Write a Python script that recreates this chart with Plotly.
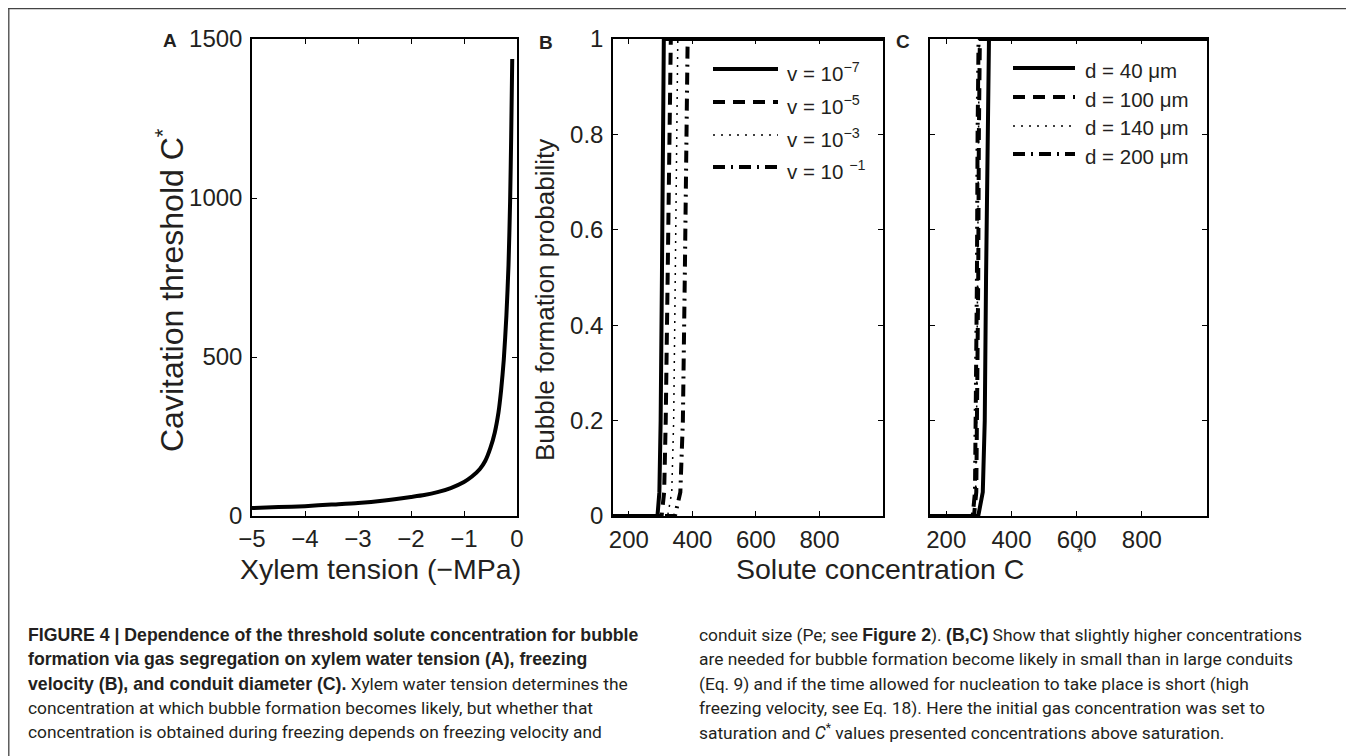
import plotly.graph_objects as go

# page body has an 8px margin: the figure is placed at (8, 8) on the page
OFF = 8
W, H = 1354 - OFF, 756 - OFF

# ---------------- data ----------------
# Panel A: cavitation threshold vs xylem tension
tension = [-5, -4.5, -4, -3.5, -3, -2.5, -2, -1.75, -1.5, -1.25, -1, -0.85, -0.7, -0.6,
           -0.5, -0.42, -0.35, -0.3, -0.25, -0.2, -0.16, -0.13, -0.11, -0.09]
threshold = [25, 28, 31, 36, 41, 49, 60, 66, 75, 88, 107, 124, 148, 173,
             215, 262, 325, 395, 490, 630, 790, 990, 1190, 1437]

# Panel B: bubble formation probability vs solute concentration, freezing velocity
prob_levels = [0, 0, 0.05, 0.2, 0.5, 0.8, 1, 1]
conc_v7 = [150, 290, 296, 300, 304, 307, 310, 1000]
conc_v5 = [150, 303, 311, 316, 322, 327, 332, 1000]
conc_v3 = [150, 322, 335, 341, 346, 350, 354, 1000]
conc_v1 = [150, 345, 362, 370, 376, 381, 385, 1000]
labels_B = ["v = 10<sup>−7</sup>", "v = 10<sup>−5</sup>", "v = 10<sup>−3</sup>", "v = 10 <sup>−1</sup>"]

# Panel C: conduit diameter
conc_d40 = [150, 298, 312, 318, 322, 326, 331, 1000]
conc_d100 = [150, 285, 292, 295, 298, 300, 303, 1000]
conc_d140 = [150, 283, 290, 293, 296, 298, 301, 1000]
conc_d200 = [150, 281, 288, 291, 294, 296, 299, 1000]
labels_C = ["d = 40 μm", "d = 100 μm", "d = 140 μm", "d = 200 μm"]

xticks_A = [-5, -4, -3, -2, -1, 0]
xticklabels_A = ["−5", "−4", "−3", "−2", "−1", "0"]
yticks_A = [0, 500, 1000, 1500]
xticks_BC = [200, 400, 600, 800]
yticks_BC = [0, 0.2, 0.4, 0.6, 0.8, 1]
yticklabels_B = ["0", "0.2", "0.4", "0.6", "0.8", "1"]

# ---------------- style ----------------
FONT = "Liberation Sans, Arial, Helvetica, sans-serif"
CAPFONT = "Roboto, Liberation Sans, Arial, sans-serif"
TXT = "#231f20"
styles = [
    dict(width=4, dash="solid"),
    dict(width=4, dash="12px,8px"),
    dict(width=1.5, dash="2px,6px"),
    dict(width=4, dash="12px,6px,2px,6px"),
]


def px(x):
    return (x - OFF) / W


def py(y):
    return 1 - (y - OFF) / H


fig = go.Figure()

fig.add_trace(go.Scatter(x=tension, y=threshold, mode="lines",
                         line=dict(color="black", width=4, shape="spline", smoothing=0.6),
                         xaxis="x", yaxis="y", showlegend=False))

for c, st in zip([conc_v7, conc_v5, conc_v3, conc_v1], styles):
    fig.add_trace(go.Scatter(x=c, y=prob_levels, mode="lines", line=dict(color="black", **st),
                             xaxis="x2", yaxis="y2", showlegend=False))
for c, st in zip([conc_d40, conc_d100, conc_d140, conc_d200], styles):
    fig.add_trace(go.Scatter(x=c, y=prob_levels, mode="lines", line=dict(color="black", **st),
                             xaxis="x3", yaxis="y3", showlegend=False))

axcommon = dict(showline=True, linecolor="black", linewidth=1.5, mirror="ticks", ticks="inside",
                ticklen=5, tickwidth=1, tickcolor="black", showgrid=False, zeroline=False,
                automargin=False, tickfont=dict(family=FONT, size=24, color=TXT))

ydom = [py(516), py(39)]
fig.update_layout(
    width=W, height=H, margin=dict(l=0, r=0, t=0, b=0, pad=0, autoexpand=False),
    showlegend=False,
    paper_bgcolor="white", plot_bgcolor="white",
    xaxis=dict(domain=[px(252), px(517)], range=[-5, 0], tickvals=xticks_A, ticktext=xticklabels_A,
               anchor="y", ticklabelstandoff=0, **axcommon),
    yaxis=dict(domain=ydom, range=[0, 1500], tickvals=yticks_A, anchor="x", ticklabelstandoff=3, **axcommon),
    xaxis2=dict(domain=[px(613), px(883)], range=[150, 1000], tickvals=xticks_BC, anchor="y2",
                ticklabelstandoff=1, **axcommon),
    yaxis2=dict(domain=ydom, range=[0, 1], tickvals=yticks_BC, ticktext=yticklabels_B, anchor="x2",
                ticklabelstandoff=3, **axcommon),
    xaxis3=dict(domain=[px(930), px(1207)], range=[150, 1000], tickvals=xticks_BC, anchor="y3",
                ticklabelstandoff=1, **axcommon),
    yaxis3=dict(domain=ydom, range=[0, 1], tickvals=yticks_BC, showticklabels=False, anchor="x3", **axcommon),
)

ann = []
shapes = []


def text(x, y, s, size, xanchor="center", yanchor="middle", bold=False, angle=0, family=FONT):
    ann.append(dict(x=px(x), y=py(y), xref="paper", yref="paper", text=s, showarrow=False,
                    xanchor=xanchor, yanchor=yanchor, textangle=angle,
                    font=dict(family=family, size=size, color=TXT, weight="bold" if bold else "normal")))


# panel letters
text(170, 41, "A", 19, bold=True)
text(546, 43, "B", 19, bold=True)
text(903, 42, "C", 19, bold=True)

# axis titles
text(380, 569, "Xylem tension (−MPa)", 28.5)
text(170, 290, "Cavitation threshold C<sup>*</sup>", 32, angle=-90)
text(545, 300, "Bubble formation probability", 26, angle=-90)
text(880, 569, "Solute concentration C", 28.5)
text(1080, 552, "*", 14)

# legends (B)
for i, (lab, st) in enumerate(zip(labels_B, styles)):
    yl = [69, 102, 135, 167][i]
    shapes.append(dict(type="line", xref="paper", yref="paper", x0=px(713), x1=px(778), y0=py(yl), y1=py(yl),
                       line=dict(color="black", width=st["width"], dash=st["dash"])))
    text(785, yl + 3, lab, 20.5, xanchor="left")
# legends (C)
for i, (lab, st) in enumerate(zip(labels_C, styles)):
    yl = [68, 97, 126, 154][i]
    shapes.append(dict(type="line", xref="paper", yref="paper", x0=px(1013), x1=px(1075), y0=py(yl), y1=py(yl),
                       line=dict(color="black", width=st["width"], dash=st["dash"])))
    text(1083, yl + 2, lab, 20.5, xanchor="left")

# frame
shapes.append(dict(type="line", xref="paper", yref="paper", x0=0, x1=1, y0=py(8.7), y1=py(8.7),
                   line=dict(color="#444", width=1.3)))
shapes.append(dict(type="line", xref="paper", yref="paper", x0=px(8.8), x1=px(8.8), y0=py(8.7), y1=0,
                   line=dict(color="#444", width=1.3)))
shapes.append(dict(type="line", xref="paper", yref="paper", x0=px(1347), x1=px(1347), y0=py(8.7), y1=0,
                   line=dict(color="#444", width=1.3)))


# caption
def B(s):
    return '<b><span style="font-family:Liberation Sans, Arial;font-size:17.7px">' + s + '</span></b>'


col1 = [
    B("FIGURE 4 | Dependence of the threshold solute concentration for bubble"),
    B("formation via gas segregation on xylem water tension (A), freezing"),
    B("velocity (B), and conduit diameter (C).") + " Xylem water tension determines the",
    "concentration at which bubble formation becomes likely, but whether that",
    "concentration is obtained during freezing depends on freezing velocity and",
]
col2 = [
    "conduit size (Pe; see " + B("Figure 2") + "). " + B("(B,C)") + " Show that slightly higher concentrations",
    "are needed for bubble formation become likely in small than in large conduits",
    "(Eq. 9) and if the time allowed for nucleation to take place is short (high",
    "freezing velocity, see Eq. 18). Here the initial gas concentration was set to",
    "saturation and <i>C</i><sup>*</sup> values presented concentrations above saturation.",
]
for i, s in enumerate(col1):
    text(26, 635 + 24.3 * i, s, 17.4, xanchor="left", family=CAPFONT)
for i, s in enumerate(col2):
    text(697, 635 + 24.3 * i, s, 17.4, xanchor="left", family=CAPFONT)

fig.update_layout(annotations=ann, shapes=shapes)
fig.write_html("out.html")
